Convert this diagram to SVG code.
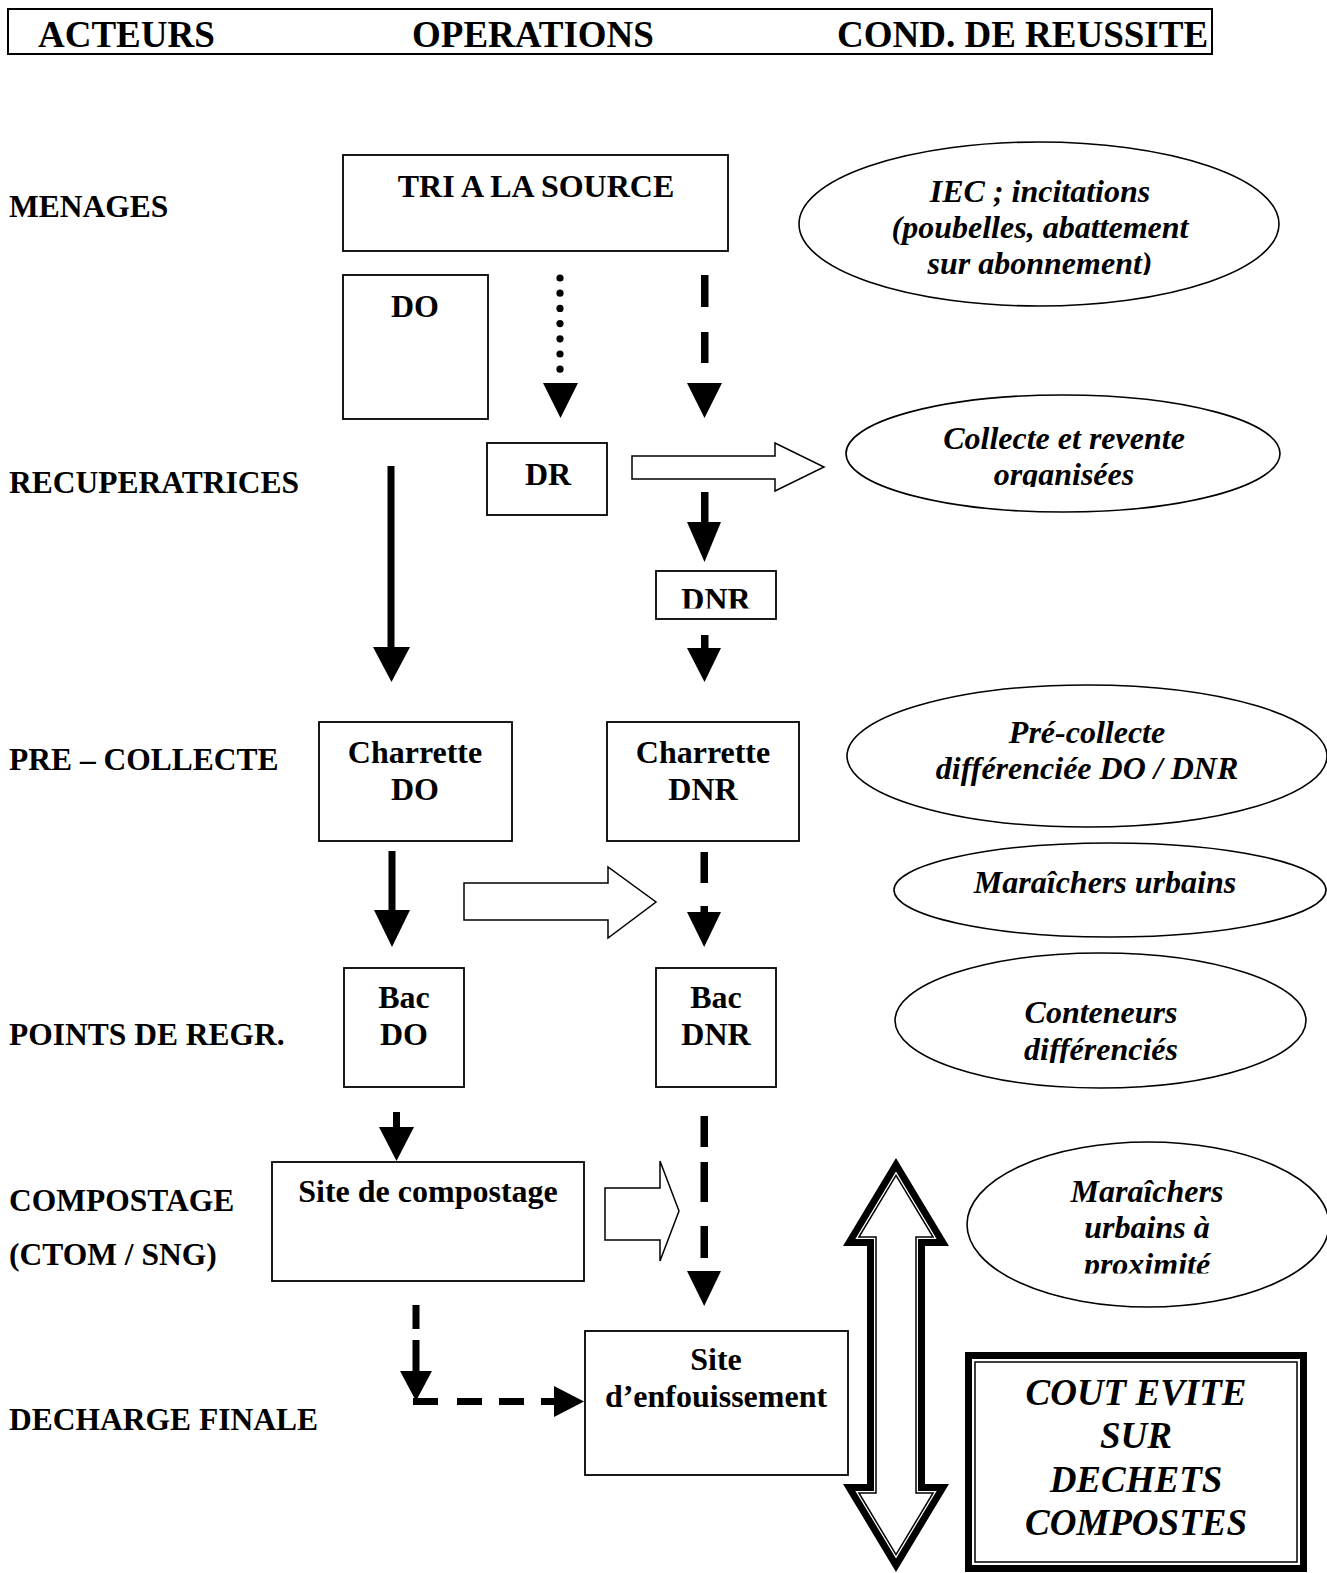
<svg xmlns="http://www.w3.org/2000/svg" width="1327" height="1573" viewBox="0 0 1327 1573">
<style>
  .box { fill: #fff; stroke: #000; stroke-width: 1.8; }
  .ell { fill: #fff; stroke: #000; stroke-width: 1.6; }
  .t { font-family: "Liberation Serif", "Times New Roman", serif; font-weight: bold; font-size: 32px; fill: #000; text-anchor: middle; }
  .ti { font-family: "Liberation Serif", "Times New Roman", serif; font-weight: bold; font-style: italic; font-size: 32px; fill: #000; text-anchor: middle; }
  .lab { font-family: "Liberation Serif", "Times New Roman", serif; font-weight: bold; font-size: 31.5px; fill: #000; }
  .hdr { font-family: "Liberation Serif", "Times New Roman", serif; font-weight: bold; font-size: 37px; fill: #000; }
  .big { font-family: "Liberation Serif", "Times New Roman", serif; font-weight: bold; font-style: italic; font-size: 37px; fill: #000; text-anchor: middle; }
  .head { fill: #000; stroke: none; }
  .stem { fill: #000; stroke: none; }
  .hollow { fill: #fff; stroke: #000; stroke-width: 1.5; stroke-linejoin: miter; }
</style>
<defs>
  <clipPath id="clipDNR"><rect x="650" y="560" width="140" height="48.5"/></clipPath>
  <clipPath id="clipIEC"><rect x="790" y="140" width="500" height="135"/></clipPath>
  <clipPath id="clipColl"><rect x="840" y="390" width="450" height="97"/></clipPath>
  <clipPath id="clipCont"><rect x="890" y="950" width="420" height="113"/></clipPath>
  <clipPath id="clipProx"><rect x="960" y="1140" width="367" height="133.5"/></clipPath>
</defs>
<rect width="1327" height="1573" fill="#fff"/>

<g id="header">
  <rect x="8" y="9" width="1204" height="45" fill="#fff" stroke="#000" stroke-width="2"/>
  <text class="hdr" x="38" y="47">ACTEURS</text>
  <text class="hdr" x="412" y="47">OPERATIONS</text>
  <text class="hdr" x="837" y="47">COND. DE REUSSITE</text>
</g>

<g id="labels">
  <text class="lab" x="9" y="217">MENAGES</text>
  <text class="lab" x="9" y="493">RECUPERATRICES</text>
  <text class="lab" x="9" y="770">PRE – COLLECTE</text>
  <text class="lab" x="9" y="1045">POINTS DE REGR.</text>
  <text class="lab" x="9" y="1211">COMPOSTAGE</text>
  <text class="lab" x="9" y="1265">(CTOM / SNG)</text>
  <text class="lab" x="9" y="1430">DECHARGE FINALE</text>
</g>

<g id="connectors">
  <!-- dotted arrow TRI -> DR -->
  <g fill="#000">
    <circle cx="560" cy="278" r="3.6"/>
    <circle cx="560" cy="293.2" r="3.6"/>
    <circle cx="560" cy="308.4" r="3.6"/>
    <circle cx="560" cy="323.6" r="3.6"/>
    <circle cx="560" cy="338.8" r="3.6"/>
    <circle cx="560" cy="354" r="3.6"/>
    <circle cx="560" cy="369.2" r="3.6"/>
  </g>
  <polygon class="head" points="543,383 578,383 560.5,418"/>
  <!-- dashed arrow TRI -> DNR -->
  <rect class="stem" x="701" y="275" width="7.5" height="32"/>
  <rect class="stem" x="701" y="332" width="7.5" height="31"/>
  <polygon class="head" points="687,383 722,383 704.5,418"/>
  <!-- dashed DR-level -> DNR -->
  <rect class="stem" x="701" y="492" width="7.5" height="31"/>
  <polygon class="head" points="687,522 721,522 704.5,562"/>
  <!-- DNR -> charrette DNR -->
  <rect class="stem" x="701" y="635" width="7.5" height="14"/>
  <polygon class="head" points="687,648 721,648 704.5,682"/>
  <!-- DO -> charrette DO -->
  <rect class="stem" x="387.5" y="466" width="7" height="182"/>
  <polygon class="head" points="373,647 410,647 391.5,682"/>
  <!-- DR -> Collecte hollow arrow -->
  <polygon class="hollow" points="632,456 775,456 775,443 824,467 775,491 775,479 632,479"/>
  <!-- Charrette DO -> Bac DO -->
  <rect class="stem" x="388.5" y="851" width="7" height="61"/>
  <polygon class="head" points="374,910 410,910 392,947"/>
  <!-- hollow arrow 2 -->
  <polygon class="hollow" points="464,883 608,883 608,867 656,902 608,938 608,920 464,920"/>
  <!-- Charrette DNR -> Bac DNR dashed -->
  <rect class="stem" x="700.5" y="852" width="7.5" height="31"/>
  <rect class="stem" x="700.5" y="906" width="7.5" height="8"/>
  <polygon class="head" points="687,912 721,912 704.2,947"/>
  <!-- Bac DO -> site compostage -->
  <rect class="stem" x="393" y="1112" width="7" height="17"/>
  <polygon class="head" points="379,1127 414,1127 396.5,1161"/>
  <!-- hollow arrow 3 -->
  <polygon class="hollow" points="605,1188 660,1188 660,1161 679,1211 660,1261 660,1240 605,1240"/>
  <!-- Bac DNR -> site enfouissement dashed -->
  <rect class="stem" x="700.5" y="1116" width="7.5" height="31"/>
  <rect class="stem" x="700.5" y="1162" width="7.5" height="40"/>
  <rect class="stem" x="700.5" y="1226" width="7.5" height="32"/>
  <polygon class="head" points="687,1271 721,1271 704.2,1306"/>
  <!-- L-shaped dashed compostage -> enfouissement -->
  <rect class="stem" x="412.5" y="1305" width="7" height="24"/>
  <rect class="stem" x="412.5" y="1340" width="7" height="32"/>
  <polygon class="head" points="400,1371 432,1371 416,1401"/>
  <rect class="stem" x="413" y="1398" width="25" height="7"/>
  <rect class="stem" x="457" y="1398" width="25" height="7"/>
  <rect class="stem" x="499" y="1398" width="25" height="7"/>
  <rect class="stem" x="541" y="1398" width="16" height="7"/>
  <polygon class="head" points="554,1386 554,1417 584,1401.5"/>
  <!-- double-headed arrow -->
  <polygon points="896,1164.8 942.8,1242.5 921.5,1242.5 921.5,1487.5 942.8,1487.5 896,1565.2 849.2,1487.5 870.5,1487.5 870.5,1242.5 849.2,1242.5" fill="#fff" stroke="#000" stroke-width="7" stroke-linejoin="miter" stroke-miterlimit="8"/>
  <polygon points="896,1175.4 933.1,1237 916,1237 916,1493 933.1,1493 896,1554.6 858.9,1493 876,1493 876,1237 858.9,1237" fill="none" stroke="#000" stroke-width="1.5" stroke-linejoin="miter" stroke-miterlimit="8"/>
</g>

<g id="tri">
  <rect class="box" x="343" y="155" width="385" height="96"/>
  <text class="t" x="536" y="197">TRI A LA SOURCE</text>
</g>
<g id="do">
  <rect class="box" x="343" y="275" width="145" height="144"/>
  <text class="t" x="415" y="317">DO</text>
</g>
<g id="dr">
  <rect class="box" x="487" y="443" width="120" height="72"/>
  <text class="t" x="548" y="485">DR</text>
</g>
<g id="dnr">
  <rect class="box" x="656" y="571" width="120" height="48"/>
  <text class="t" x="716" y="610" clip-path="url(#clipDNR)">DNR</text>
</g>
<g id="charrette-do">
  <rect class="box" x="319" y="722" width="193" height="119"/>
  <text class="t" x="415" y="763">Charrette</text>
  <text class="t" x="415" y="800">DO</text>
</g>
<g id="charrette-dnr">
  <rect class="box" x="607" y="722" width="192" height="119"/>
  <text class="t" x="703" y="763">Charrette</text>
  <text class="t" x="703" y="800">DNR</text>
</g>
<g id="bac-do">
  <rect class="box" x="344" y="968" width="120" height="119"/>
  <text class="t" x="404" y="1008">Bac</text>
  <text class="t" x="404" y="1045">DO</text>
</g>
<g id="bac-dnr">
  <rect class="box" x="656" y="968" width="120" height="119"/>
  <text class="t" x="716" y="1008">Bac</text>
  <text class="t" x="716" y="1045">DNR</text>
</g>
<g id="site-compostage">
  <rect class="box" x="272" y="1162" width="312" height="119"/>
  <text class="t" x="428" y="1202">Site de compostage</text>
</g>
<g id="site-enfouissement">
  <rect class="box" x="585" y="1331" width="263" height="144"/>
  <text class="t" x="716" y="1370">Site</text>
  <text class="t" x="716" y="1407">d’enfouissement</text>
</g>

<g id="cond-iec">
  <ellipse class="ell" cx="1039" cy="224" rx="240" ry="82"/>
  <g clip-path="url(#clipIEC)">
    <text class="ti" x="1040" y="202">IEC ; incitations</text>
    <text class="ti" x="1040" y="238">(poubelles, abattement</text>
    <text class="ti" x="1040" y="274">sur abonnement)</text>
  </g>
</g>
<g id="cond-collecte">
  <ellipse class="ell" cx="1063" cy="453.5" rx="217" ry="58.5"/>
  <g clip-path="url(#clipColl)">
    <text class="ti" x="1064" y="449">Collecte et revente</text>
    <text class="ti" x="1064" y="485">organisées</text>
  </g>
</g>
<g id="cond-precollecte">
  <ellipse class="ell" cx="1087" cy="756" rx="240" ry="71"/>
  <text class="ti" x="1087" y="743">Pré-collecte</text>
  <text class="ti" x="1087" y="779">différenciée DO / DNR</text>
</g>
<g id="cond-maraichers">
  <ellipse class="ell" cx="1110" cy="890" rx="216" ry="47"/>
  <text class="ti" x="1105" y="893">Maraîchers urbains</text>
</g>
<g id="cond-conteneurs">
  <ellipse class="ell" cx="1100.5" cy="1020.5" rx="205.5" ry="67.5"/>
  <g clip-path="url(#clipCont)">
    <text class="ti" x="1101" y="1023">Conteneurs</text>
    <text class="ti" x="1101" y="1060">différenciés</text>
  </g>
</g>
<g id="cond-proximite">
  <ellipse class="ell" cx="1148" cy="1224.5" rx="181" ry="82.5"/>
  <g clip-path="url(#clipProx)">
    <text class="ti" x="1147" y="1202">Maraîchers</text>
    <text class="ti" x="1147" y="1238">urbains à</text>
    <text class="ti" x="1147" y="1275">proximité</text>
  </g>
</g>
<g id="cout-evite">
  <rect x="968.5" y="1355.5" width="335" height="213" fill="#fff" stroke="#000" stroke-width="7"/>
  <rect x="975" y="1362" width="322" height="200" fill="none" stroke="#000" stroke-width="1.5"/>
  <text class="big" x="1136" y="1405">COUT EVITE</text>
  <text class="big" x="1136" y="1448">SUR</text>
  <text class="big" x="1136" y="1492">DECHETS</text>
  <text class="big" x="1136" y="1535">COMPOSTES</text>
</g>
</svg>
